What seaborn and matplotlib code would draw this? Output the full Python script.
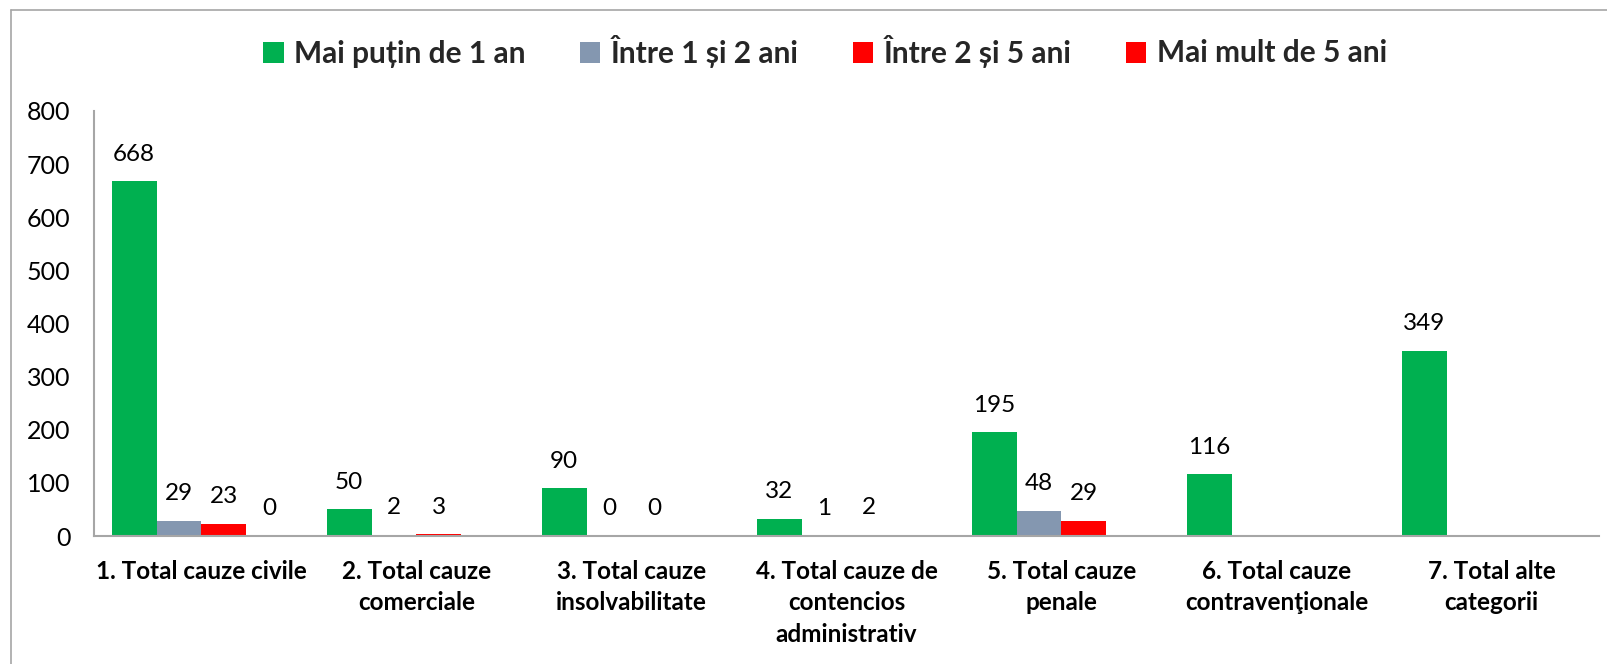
import matplotlib
matplotlib.use("Agg")
import matplotlib.pyplot as plt
from matplotlib.lines import Line2D
import seaborn as sns
import pandas as pd
import numpy as np

categories = [
    "1. Total cauze civile",
    "2. Total cauze\ncomerciale",
    "3. Total cauze\ninsolvabilitate",
    "4. Total cauze de\ncontencios\nadministrativ",
    "5. Total cauze\npenale",
    "6. Total cauze\ncontravenţionale",
    "7. Total alte\ncategorii",
]
series_names = ["Mai puțin de 1 an", "Între 1 și 2 ani", "Între 2 și 5 ani", "Mai mult de 5 ani"]
sub1 = [668, 50, 90, 32, 195, 116, 349]
s1_2 = [29, 2, 0, 1, 48, np.nan, np.nan]
s2_5 = [23, 3, 0, 2, 29, np.nan, np.nan]
over5 = [0, np.nan, np.nan, np.nan, np.nan, np.nan, np.nan]
colors = ["#00B050", "#8497B0", "#FF0000", "#FF0000"]
yticks = [0, 100, 200, 300, 400, 500, 600, 700, 800]

rows = []
for name, vals in zip(series_names, [sub1, s1_2, s2_5, over5]):
    for c, v in zip(categories, vals):
        rows.append({"cat": c, "series": name, "val": v})
df = pd.DataFrame(rows)

sns.set_theme(style="white")
plt.rcParams["font.family"] = ["Lato", "DejaVu Sans"]

fig = plt.figure(figsize=(16.08, 6.64), dpi=100)
ax = fig.add_axes([94 / 1608, 1 - 536 / 664, (1599 - 94) / 1608, (536 - 111) / 664])

sns.barplot(data=df.dropna(), x="cat", y="val", hue="series", order=categories,
            hue_order=series_names, palette=colors, saturation=1, width=0.837,
            errorbar=None, ax=ax, legend=True, linewidth=0)

for cont in ax.containers:
    for bar in cont:
        h = bar.get_height()
        if np.isnan(h):
            continue
        ax.annotate(f"{int(round(h))}", (bar.get_x() + bar.get_width() / 2, h),
                    xytext=(0, 19.5), textcoords="offset points", ha="center", va="center",
                    fontsize=17.5, color="#000000")

ax.set_ylim(0, 800)
ax.set_xlim(-0.5, len(categories) - 0.5)
ax.set_yticks(yticks)
ax.set_yticklabels([str(t) for t in yticks], fontsize=18, color="#000000")
ax.set_xticks(range(len(categories)))
ax.set_xticklabels(categories, fontsize=17.5, fontweight="bold", color="#000000", linespacing=1.45)
ax.tick_params(axis="both", length=0)
ax.tick_params(axis="y", pad=17)
ax.tick_params(axis="x", pad=17)
ax.set_xlabel("")
ax.set_ylabel("")
for s in ["top", "right"]:
    ax.spines[s].set_visible(False)
for s in ["left", "bottom"]:
    ax.spines[s].set_color("#A6A6A6")
    ax.spines[s].set_linewidth(1.5)

handles, labels = ax.get_legend_handles_labels()
ax.legend(handles, labels, loc="center", bbox_to_anchor=(825 / 1608, 1 - 51 / 664),
          bbox_transform=fig.transFigure, ncol=4, frameon=False,
          prop={"weight": "bold", "size": 21.5}, handlelength=0.7, handleheight=0.7,
          handletextpad=0.35, columnspacing=1.8)

fig.add_artist(Line2D([11 / 1608, 11 / 1608], [0, 1 - 10 / 664], transform=fig.transFigure,
                      color="#A6A6A6", linewidth=1.2))
fig.add_artist(Line2D([11 / 1608, 1], [1 - 10 / 664, 1 - 10 / 664], transform=fig.transFigure,
                      color="#A6A6A6", linewidth=1.2))

fig.savefig("out.png", dpi=100, facecolor="white")
